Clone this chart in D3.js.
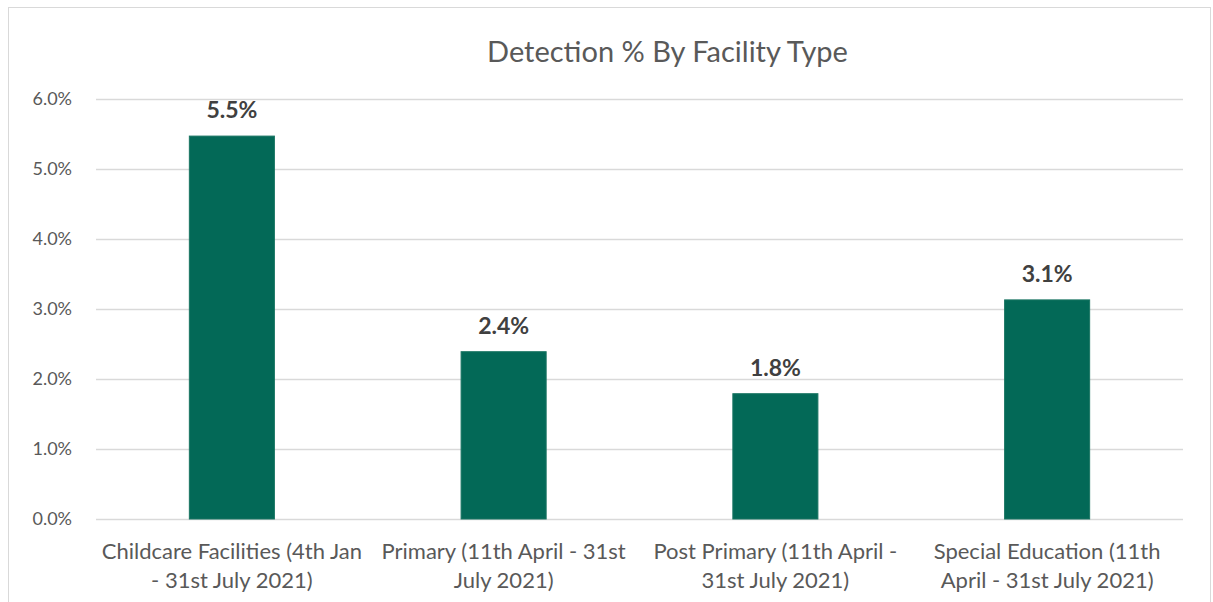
<!DOCTYPE html>
<html>
<head>
<meta charset="utf-8">
<script src="https://cdn.jsdelivr.net/npm/d3@7"></script>
<style>
  body { margin: 0; background: #fff; }
  text { font-family: Lato, "Open Sans", sans-serif; }
</style>
</head>
<body>
<div id="chart"></div>
<script>
// Dados do gráfico
const categories = [
    "Childcare Facilities (4th Jan - 31st July 2021)",
    "Primary (11th April - 31st July 2021)",
    "Post Primary (11th April - 31st July 2021)",
    "Special Education (11th April - 31st July 2021)"
];
const categoryLines = [
    ["Childcare Facilities (4th Jan", "- 31st July 2021)"],
    ["Primary (11th April - 31st", "July 2021)"],
    ["Post Primary (11th April -", "31st July 2021)"],
    ["Special Education (11th", "April - 31st July 2021)"]
];
const detection = [5.47, 2.39, 1.79, 3.13];
const labels = ["5.5%", "2.4%", "1.8%", "3.1%"];
const yTicks = [0, 1, 2, 3, 4, 5, 6];

const width = 1213;
const height = 602;
const margin = { top: 99, right: 30, bottom: 83, left: 96 };

const svg = d3.select("#chart")
    .append("svg")
    .attr("width", width)
    .attr("height", height);

// Borda da área do gráfico
svg.append("rect")
    .attr("x", 8.5)
    .attr("y", 7.5)
    .attr("width", 1202)
    .attr("height", 620)
    .attr("fill", "none")
    .attr("stroke", "#d9d9d9");

// Escalas
const x = d3.scaleBand()
    .domain(categories)
    .range([margin.left, width - margin.right])
    .paddingInner(0.687)
    .paddingOuter(0.3435);

const y = d3.scaleLinear()
    .domain([0, 6])
    .range([height - margin.bottom, margin.top]);

// Título
svg.append("text")
    .attr("x", (margin.left + width - margin.right) / 2 + 28)
    .attr("y", 62)
    .attr("text-anchor", "middle")
    .style("font-size", "29px")
    .style("fill", "#595959")
    .text("Detection % By Facility Type");

// Linhas de grade e rótulos do eixo Y
const yAxis = svg.append("g")
    .attr("transform", `translate(${margin.left},0)`)
    .call(d3.axisLeft(y)
        .tickValues(yTicks)
        .tickSize(-(width - margin.left - margin.right))
        .tickPadding(24)
        .tickFormat(d => d.toFixed(1) + "%"));

yAxis.select(".domain").remove();
yAxis.selectAll(".tick line")
    .attr("stroke", "#d9d9d9")
    .attr("stroke-width", 1.3);
yAxis.selectAll(".tick text")
    .style("font-size", "18px")
    .style("fill", "#595959");

// Barras
svg.selectAll(".bar")
    .data(detection)
    .enter()
    .append("rect")
    .attr("class", "bar")
    .attr("x", (d, i) => x(categories[i]))
    .attr("y", d => y(d))
    .attr("width", x.bandwidth())
    .attr("height", d => y(0) - y(d))
    .attr("fill", "#036957")
    .attr("stroke", "#1a7563")
    .attr("stroke-width", 1);

// Rótulos de valor
svg.selectAll(".value")
    .data(detection)
    .enter()
    .append("text")
    .attr("class", "value")
    .attr("x", (d, i) => x(categories[i]) + x.bandwidth() / 2)
    .attr("y", d => y(d) - 18)
    .attr("text-anchor", "middle")
    .style("font-size", "23px")
    .style("font-weight", "bold")
    .style("fill", "#404040")
    .text((d, i) => labels[i]);

// Rótulos das categorias (duas linhas)
const catLabels = svg.selectAll(".cat")
    .data(categories)
    .enter()
    .append("text")
    .attr("class", "cat")
    .attr("text-anchor", "middle")
    .attr("transform", d => `translate(${x(d) + x.bandwidth() / 2},559)`)
    .style("font-size", "22px")
    .style("fill", "#595959");

catLabels.each(function(d, i) {
    d3.select(this).selectAll("tspan")
        .data(categoryLines[i])
        .enter()
        .append("tspan")
        .attr("x", 0)
        .attr("dy", (t, j) => j === 0 ? 0 : 29)
        .text(t => t);
});
</script>
</body>
</html>
